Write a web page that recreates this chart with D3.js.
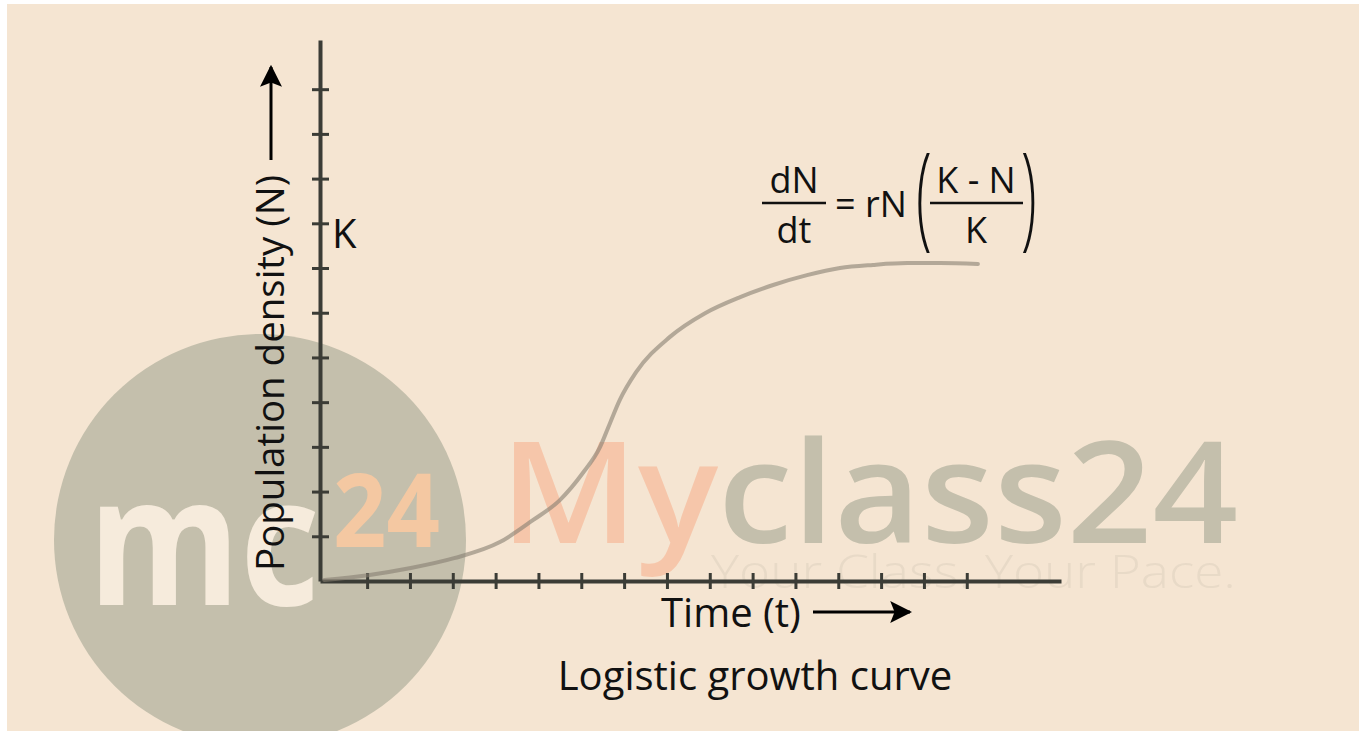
<!DOCTYPE html>
<html>
<head>
<meta charset="utf-8">
<script src="https://cdn.jsdelivr.net/npm/d3@7"></script>
<style>
  body { margin: 0; background: #ffffff; }
  text { font-family: "Open Sans", "Noto Sans", sans-serif; }
</style>
</head>
<body>
<div id="chart"></div>
<script>
// time values (t) and population density (N)
var timeValues = [0, 1.02, 2.02, 3.03, 4.10, 4.87, 5.50, 6.04, 6.44, 6.67, 6.90, 7.28, 8.07, 8.89, 9.71, 10.48, 11.27, 12.04, 12.81, 13.61, 14.38, 15.26]
var densityValues = [0.02, 0.13, 0.29, 0.51, 0.87, 1.36, 1.81, 2.42, 3.00, 3.53, 4.05, 4.67, 5.46, 5.99, 6.35, 6.62, 6.84, 7.00, 7.07, 7.11, 7.11, 7.09]

// tick marks on both axes
var xTicks = d3.range(1, 16)
var yTicks = d3.range(1, 12)
// carrying capacity label sits on this tick
var kTick = 8

var width = 1359
var height = 731

var svg = d3.select('#chart').append('svg')
    .attr('width', width)
    .attr('height', height)

// page background
svg.append('rect')
    .attr('x', 7).attr('y', 4)
    .attr('width', width - 7).attr('height', height - 4)
    .attr('fill', '#f5e5d2')

// watermark goes underneath the chart
var wm = svg.append('g').attr('font-family', 'Inter, Roboto, sans-serif').attr('font-weight', 700)
wm.append('circle')
    .attr('cx', 260).attr('cy', 540).attr('r', 206)
    .attr('fill', '#c4bfac')
wm.append('text')
    .attr('x', 88).attr('y', 605)
    .attr('font-size', 180)
    .attr('textLength', 232).attr('lengthAdjust', 'spacingAndGlyphs')
    .attr('fill', '#f6ebdc')
    .text('mc')
wm.append('text')
    .attr('x', 333).attr('y', 547)
    .attr('font-size', 102)
    .attr('textLength', 107).attr('lengthAdjust', 'spacingAndGlyphs')
    .attr('fill', '#f4c8a2')
    .text('24')
wm.append('text')
    .attr('x', 500).attr('y', 543)
    .attr('font-size', 142)
    .attr('font-weight', 600)
    .attr('textLength', 738).attr('lengthAdjust', 'spacingAndGlyphs')
    .attr('fill', '#c4bfac')
    .call(t => {
        t.append('tspan').attr('fill', '#f6c6aa').text('My')
        t.append('tspan').text('class24')
    })
wm.append('text')
    .attr('x', 711).attr('y', 588)
    .attr('font-size', 46)
    .attr('font-weight', 300)
    .attr('textLength', 525).attr('lengthAdjust', 'spacingAndGlyphs')
    .attr('fill', '#a09a8a').attr('fill-opacity', 0.15)
    .text('Your Class. Your Pace.')

// scales
var x = d3.scaleLinear().domain([-0.1, 17.2]).range([320, 1061])
var y = d3.scaleLinear().domain([0, 12.1]).range([581, 40])

var axisColor = '#3b3c36'

// x axis, ticks cross the line
var xAxis = svg.append('g')
    .attr('transform', 'translate(0,' + y(0) + ')')
    .call(d3.axisBottom(x).tickValues(xTicks).tickSize(8).tickSizeOuter(0).tickFormat(''))
xAxis.select('.domain').attr('stroke', axisColor).attr('stroke-width', 4)
xAxis.selectAll('.tick line')
    .attr('y1', -8)
    .attr('stroke', axisColor).attr('stroke-width', 3)

// y axis
var yAxis = svg.append('g')
    .attr('transform', 'translate(' + x(-0.1) + ',0)')
    .call(d3.axisLeft(y).tickValues(yTicks).tickSize(8).tickSizeOuter(0).tickFormat(''))
yAxis.select('.domain').attr('stroke', axisColor).attr('stroke-width', 4)
yAxis.selectAll('.tick line')
    .attr('x1', 9)
    .attr('stroke', axisColor).attr('stroke-width', 3)

// K label
svg.append('text')
    .attr('x', x(-0.1) + 12)
    .attr('y', y(kTick) + 25)
    .attr('font-size', 40)
    .attr('fill', '#111')
    .text('K')

// logistic curve
var points = timeValues.map((t, i) => [t, densityValues[i]])
var line = d3.line()
    .x(d => x(d[0]))
    .y(d => y(d[1]))
    .curve(d3.curveMonotoneX)

svg.append('path')
    .datum(points)
    .attr('d', line)
    .attr('fill', 'none')
    .attr('stroke', '#877f72')
    .attr('stroke-opacity', 0.6)
    .attr('stroke-width', 4)
    .attr('stroke-linecap', 'round')

// arrow marker for axis titles
svg.append('defs').append('marker')
    .attr('id', 'arrow')
    .attr('viewBox', '0 0 10 10')
    .attr('refX', 9).attr('refY', 5)
    .attr('markerUnits', 'userSpaceOnUse')
    .attr('markerWidth', 22).attr('markerHeight', 22)
    .attr('orient', 'auto')
    .append('path')
        .attr('d', 'M0,0 L10,5 L0,10 L2,5 Z')
        .attr('fill', '#000')

// y title
svg.append('text')
    .attr('transform', 'translate(284,571) rotate(-90)')
    .attr('font-size', 38)
    .attr('textLength', 396).attr('lengthAdjust', 'spacingAndGlyphs')
    .attr('fill', '#111')
    .text('Population density (N)')
svg.append('line')
    .attr('x1', 271).attr('y1', 160)
    .attr('x2', 271).attr('y2', 67)
    .attr('stroke', '#000').attr('stroke-width', 3)
    .attr('marker-end', 'url(#arrow)')

// x title
svg.append('text')
    .attr('x', 661).attr('y', 627)
    .attr('font-size', 40)
    .attr('fill', '#111')
    .text('Time (t)')
svg.append('line')
    .attr('x1', 813).attr('y1', 612)
    .attr('x2', 910).attr('y2', 612)
    .attr('stroke', '#000').attr('stroke-width', 3)
    .attr('marker-end', 'url(#arrow)')

// caption
svg.append('text')
    .attr('x', 755).attr('y', 690)
    .attr('text-anchor', 'middle')
    .attr('font-size', 40)
    .attr('fill', '#111')
    .text('Logistic growth curve')

// equation dN/dt = rN((K - N)/K)
var eq = svg.append('g').attr('fill', '#111').attr('font-size', 36)
eq.append('text').attr('x', 794).attr('y', 193).attr('text-anchor', 'middle').text('dN')
eq.append('text').attr('x', 794).attr('y', 243).attr('text-anchor', 'middle').text('dt')
eq.append('line').attr('x1', 762).attr('x2', 826).attr('y1', 203).attr('y2', 203)
    .attr('stroke', '#111').attr('stroke-width', 2.5)
eq.append('text').attr('x', 835).attr('y', 217).text('= rN')
eq.append('text').attr('transform', 'translate(916,235) scale(1.6,3.2)').attr('font-weight', 300).text('(')
eq.append('text').attr('transform', 'translate(1021,235) scale(1.6,3.2)').attr('font-weight', 300).text(')')
eq.append('text').attr('x', 976).attr('y', 193).attr('text-anchor', 'middle').text('K - N')
eq.append('text').attr('x', 976).attr('y', 243).attr('text-anchor', 'middle').text('K')
eq.append('line').attr('x1', 930).attr('x2', 1023).attr('y1', 203).attr('y2', 203)
    .attr('stroke', '#111').attr('stroke-width', 2.5)
</script>
</body>
</html>
